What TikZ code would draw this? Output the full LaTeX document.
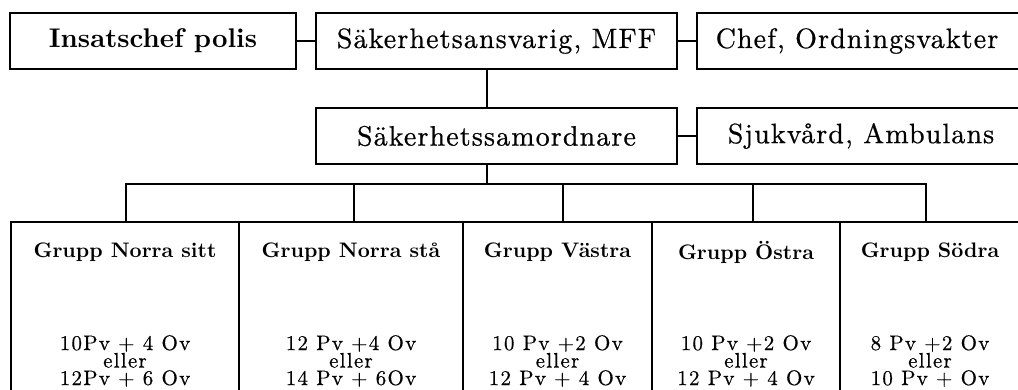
\documentclass[tikz,border=0pt]{standalone}
\usepackage{fontspec}
\setmainfont{lmroman10-regular.otf}[BoldFont=lmroman10-bold.otf]
\begin{document}
\begin{tikzpicture}[x=1pt,y=-1pt,
  box/.style={draw, line width=1.2pt, rectangle, inner sep=0pt, anchor=center},
  topfont/.style={font=\fontsize{28}{30}\selectfont\addfontfeatures{LetterSpace=4,FakeBold=0.6}},
  topbold/.style={font=\bfseries\fontsize{27}{30}\selectfont},
  toprow/.style={box, minimum height=56pt},
  grp/.style={box, minimum height=218pt},
  conn/.style={line width=1.2pt, line join=miter},
  gtitle/.style={font=\bfseries\fontsize{21}{22}\selectfont, inner sep=0pt},
  gbody/.style={font=\fontsize{21}{17.5}\selectfont\addfontfeatures{LetterSpace=6,FakeBold=0.4}, align=center, inner sep=0pt}]
\useasboundingbox (0,0) rectangle (1018,390);
\clip (0,0) rectangle (1018,390);

% top row
\node[toprow, topbold, minimum width=286pt] (ins) at (153,41) {Insatschef polis};
\node[toprow, topfont, minimum width=361pt] (sak) at (496.5,41) {Säkerhetsansvarig, MFF};
\node[toprow, topfont, minimum width=343pt] (chef) at (868.5,41) {Chef, Ordningsvakter\hspace*{23pt}};

% second row
\node[toprow, topfont, minimum width=361pt] (sam) at (496.5,136) {Säkerhetssamordnare};
\node[toprow, topfont, minimum width=343pt] (sjuk) at (868.5,136) {Sjukvård, Ambulans\hspace*{15pt}};

% group boxes
\node[grp, minimum width=228pt] (g1) at (125,331) {};
\node[grp, minimum width=224pt] (g2) at (351,331) {};
\node[grp, minimum width=189pt] (g3) at (557.5,331) {};
\node[grp, minimum width=188pt] (g4) at (746,331) {};
\node[grp, minimum width=200pt] (g5) at (940,331) {};

% group titles
\node[gtitle] (t1) at (125,252) {Grupp Norra sitt};
\node[gtitle] (t2) at (351,252) {Grupp Norra stå};
\node[gtitle] (t3) at (557.5,252) {Grupp Västra};
\node[gtitle] (t4) at (746,252) {Grupp Östra};
\node[gtitle] (t5) at (930,252) {Grupp Södra};

% group bodies
\node[gbody] (b1) at (125,361) {10Pv + 4 Ov\\eller\\12Pv + 6 Ov};
\node[gbody] (b2) at (351,361) {12 Pv +4 Ov\\eller\\14 Pv + 6Ov};
\node[gbody] (b3) at (557.5,361) {10 Pv +2 Ov\\eller\\12 Pv + 4 Ov};
\node[gbody] (b4) at (746,361) {10 Pv +2 Ov\\eller\\12 Pv + 4 Ov};
\node[gbody] (b5) at (930,361) {8 Pv +2 Ov\\eller\\10 Pv + Ov};

% connectors
\coordinate (trunk) at (487,184);
\coordinate (d1) at (126,184);
\coordinate (d2) at (354,184);
\coordinate (d3) at (563,184);
\coordinate (d4) at (753,184);
\coordinate (d5) at (926,184);

\draw[conn] (ins.east) -- (sak.west);
\draw[conn] (sak.east) -- (chef.west);
\draw[conn] (sam.east) -- (sjuk.west);
\draw[conn] (sak.south -| trunk) -- (sam.north -| trunk);
\draw[conn] (sam.south -| trunk) -- (trunk);
\draw[conn] (d1 |- g1.north) -- (d1) -- (d5) -- (d5 |- g5.north);
\draw[conn] (d2) -- (d2 |- g2.north);
\draw[conn] (d3) -- (d3 |- g3.north);
\draw[conn] (d4) -- (d4 |- g4.north);
\end{tikzpicture}
\end{document}
